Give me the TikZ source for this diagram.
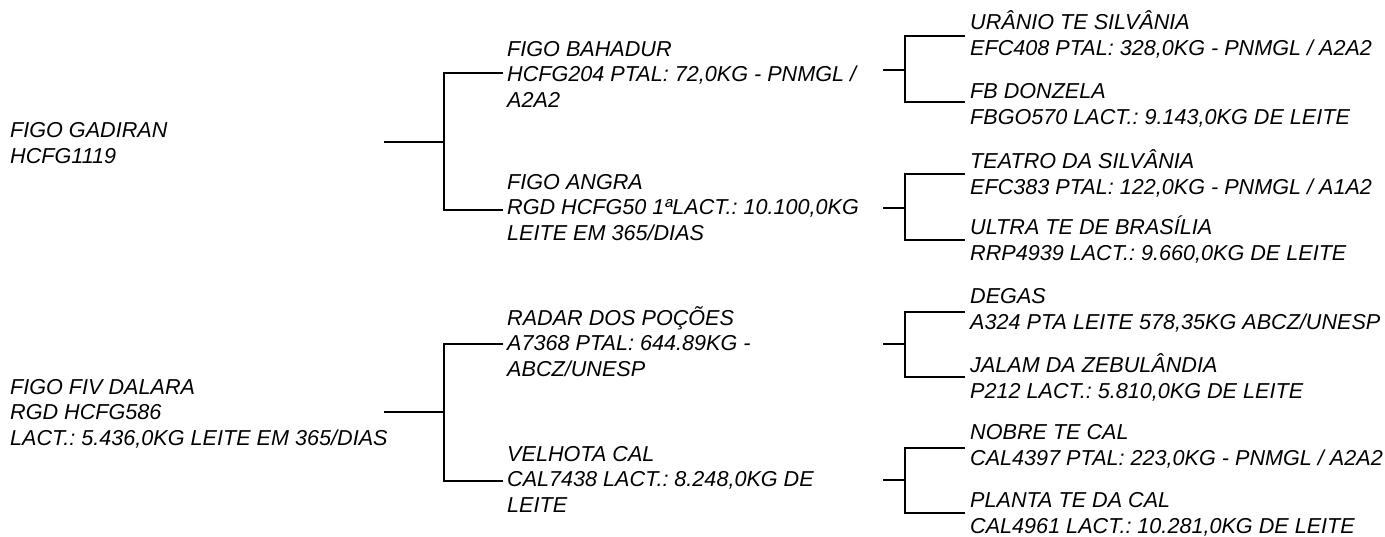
\documentclass[tikz,border=0pt]{standalone}
\usepackage{fontspec}
\setmainfont{Liberation Sans}
\frenchspacing
\begin{document}
\begin{tikzpicture}[x=1pt,y=-1pt,
  lbl/.style={anchor=base west, inner sep=0pt, align=left, font=\fontsize{21.6}{25.5}\selectfont\itshape},
  link/.style={line width=2.8pt}]
\useasboundingbox (0,0) rectangle (1385,536);
% generation 0 (positions are the baseline of the last line)
\node[lbl] (g0a) at (10,163) {FIGO GADIRAN\\HCFG1119};
\node[lbl] (g0b) at (10,445) {FIGO FIV DALARA\\RGD HCFG586\\LACT.: 5.436,0KG LEITE EM 365/DIAS};
% generation 1
\node[lbl] (g1a) at (507,107) {FIGO BAHADUR\\HCFG204 PTAL: 72,0KG - PNMGL /\\A2A2};
\node[lbl] (g1b) at (507,240) {FIGO ANGRA\\RGD HCFG50 1ªLACT.: 10.100,0KG\\LEITE EM 365/DIAS};
\node[lbl] (g1c) at (507,376) {RADAR DOS POÇÕES\\A7368 PTAL: 644.89KG -\\ABCZ/UNESP};
\node[lbl] (g1d) at (507,512) {VELHOTA CAL\\CAL7438 LACT.: 8.248,0KG DE\\LEITE};
% generation 2
\node[lbl] (g2a) at (970,55) {URÂNIO TE SILVÂNIA\\EFC408 PTAL: 328,0KG - PNMGL / A2A2};
\node[lbl] (g2b) at (970,124) {FB DONZELA\\FBGO570 LACT.: 9.143,0KG DE LEITE};
\node[lbl] (g2c) at (970,194) {TEATRO DA SILVÂNIA\\EFC383 PTAL: 122,0KG - PNMGL / A1A2};
\node[lbl] (g2d) at (970,260) {ULTRA TE DE BRASÍLIA\\RRP4939 LACT.: 9.660,0KG DE LEITE};
\node[lbl] (g2e) at (970,329) {DEGAS\\A324 PTA LEITE 578,35KG ABCZ/UNESP};
\node[lbl] (g2f) at (970,398) {JALAM DA ZEBULÂNDIA\\P212 LACT.: 5.810,0KG DE LEITE};
\node[lbl] (g2g) at (970,465) {NOBRE TE CAL\\CAL4397 PTAL: 223,0KG - PNMGL / A2A2};
\node[lbl] (g2h) at (970,533) {PLANTA TE DA CAL\\CAL4961 LACT.: 10.281,0KG DE LEITE};
% connector coordinates
\coordinate (s0a) at (384,142); \coordinate (j0a) at (444,142);
\coordinate (e1a) at (503,73);  \coordinate (e1b) at (503,210);
\coordinate (s0b) at (384,412); \coordinate (j0b) at (444,412);
\coordinate (e1c) at (503,344); \coordinate (e1d) at (503,481);
\coordinate (s1a) at (883,70);  \coordinate (j1a) at (905,70);
\coordinate (e2a) at (965,36);  \coordinate (e2b) at (965,102);
\coordinate (s1b) at (883,208); \coordinate (j1b) at (905,208);
\coordinate (e2c) at (965,174); \coordinate (e2d) at (965,240);
\coordinate (s1c) at (883,344); \coordinate (j1c) at (905,344);
\coordinate (e2e) at (965,312); \coordinate (e2f) at (965,377);
\coordinate (s1d) at (883,480); \coordinate (j1d) at (905,480);
\coordinate (e2g) at (965,448); \coordinate (e2h) at (965,513);
% connectors
\foreach \s/\j/\u/\d in {s0a/j0a/e1a/e1b, s0b/j0b/e1c/e1d, s1a/j1a/e2a/e2b, s1b/j1b/e2c/e2d, s1c/j1c/e2e/e2f, s1d/j1d/e2g/e2h}{
  \draw[link] (\s) -- (\j);
  \draw[link] (\u) -| (\j) |- (\d);
}
\end{tikzpicture}
\end{document}
